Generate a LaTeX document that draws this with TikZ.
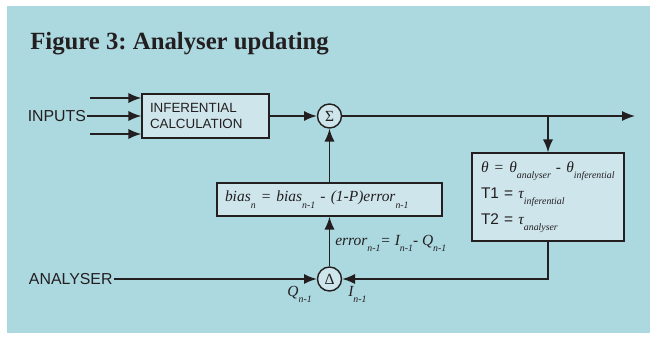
\documentclass[tikz,border=0pt]{standalone}
\usepackage{fontspec}
\setmainfont{Liberation Serif}
\setsansfont{Liberation Sans}
\definecolor{panel}{RGB}{172,216,224}
\definecolor{boxfill}{RGB}{205,229,235}
\definecolor{ink}{RGB}{35,31,32}
\usetikzlibrary{arrows.meta,shapes}
\frenchspacing
\newcommand{\lo}[1]{\raisebox{-0.9ex}{\fontsize{7}{7}\selectfont\itshape #1}}
\tikzstyle{block}=[draw=ink,line width=1pt,fill=boxfill,rectangle,inner sep=0pt]
\tikzstyle{junction}=[draw=ink,line width=1pt,fill=boxfill,circle,minimum size=0.6cm,inner sep=0pt,text=ink,font=\fontsize{11}{11}\selectfont]
\tikzstyle{tag}=[text=ink,font=\sffamily\fontsize{11.3}{12}\selectfont,inner sep=0.5pt]
\tikzstyle{formula}=[text=ink,font=\itshape\fontsize{11}{13}\selectfont,inner sep=0pt]
\tikzstyle{edge} = [draw=ink,line width=1pt,-{Latex[length=3.2mm,width=2.5mm]}]

\begin{document}
\begin{tikzpicture}

            \fill[panel] (0.175,0.125) rectangle (16.25,8.3);

            \node[anchor=base west,text=ink,inner sep=0pt,font=\bfseries\fontsize{17.6}{20}\selectfont] (title) at (0.75,7.2) {Figure 3: Analyser updating};

            \node[tag,anchor=east] (inputs) at (2.175,5.55) {INPUTS};
            \coordinate (in1) at (2.25,6.0);
            \coordinate (in3) at (2.25,5.1);
            \node[block,minimum width=3.175cm,minimum height=1.1cm,text width=2.775cm,align=left,text=ink,font=\sffamily\fontsize{9.5}{11.4}\selectfont] (calc) at (5.1375,5.55) {INFERENTIAL\\CALCULATION};
            \node[junction] (sum) at (8.2375,5.55) {Σ};
            \coordinate (branch) at (13.7,5.55);
            \coordinate (out) at (15.875,5.55);
            \node[block,minimum width=3.8cm,minimum height=2.2cm,text width=3.35cm,align=left,text=ink,font=\itshape\fontsize{11}{18.5}\selectfont] (theta) at (13.7,3.525) {θ = θ\lo{analyser} - θ\lo{inferential}\\{\sffamily\upshape T1 =} τ\lo{inferential}\\{\sffamily\upshape T2 =} τ\lo{analyser}};
            \node[block,minimum width=5.625cm,minimum height=0.825cm,text width=5.225cm,align=left,text=ink,font=\itshape\fontsize{11}{13}\selectfont] (bias) at (8.2375,3.4625) {bias\lo{n} = bias\lo{n-1} - (1-P)error\lo{n-1}};
            \node[junction] (delta) at (8.2375,1.475) {Δ};
            \node[tag,anchor=west] (analyser) at (0.7,1.475) {ANALYSER};

            \node[formula,anchor=base west] (err) at (8.375,2.325) {error\lo{n-1}= I\lo{n-1}- Q\lo{n-1}};
            \node[formula,anchor=base east] (qlab) at (7.8,1.05) {Q\lo{n-1}};
            \node[formula,anchor=base west] (ilab) at (8.7,1.05) {I\lo{n-1}};

            \path[edge] (inputs) -- (calc);
            \path[edge] (in1) -- (in1 -| calc.west);
            \path[edge] (in3) -- (in3 -| calc.west);
            \path[edge] (calc) -- (sum);
            \path[edge] (sum) -- (out);
            \path[edge] (branch) -- (theta);
            \path[edge] (theta.south) |- (delta);
            \path[edge] (analyser) -- (delta);
            \path[edge] (delta) -- (bias);
            \path[edge] (bias) -- (sum);

            \pgfresetboundingbox
            \path [use as bounding box] (0,0) rectangle (16.25,8.45);
        \end{tikzpicture}
\end{document}
